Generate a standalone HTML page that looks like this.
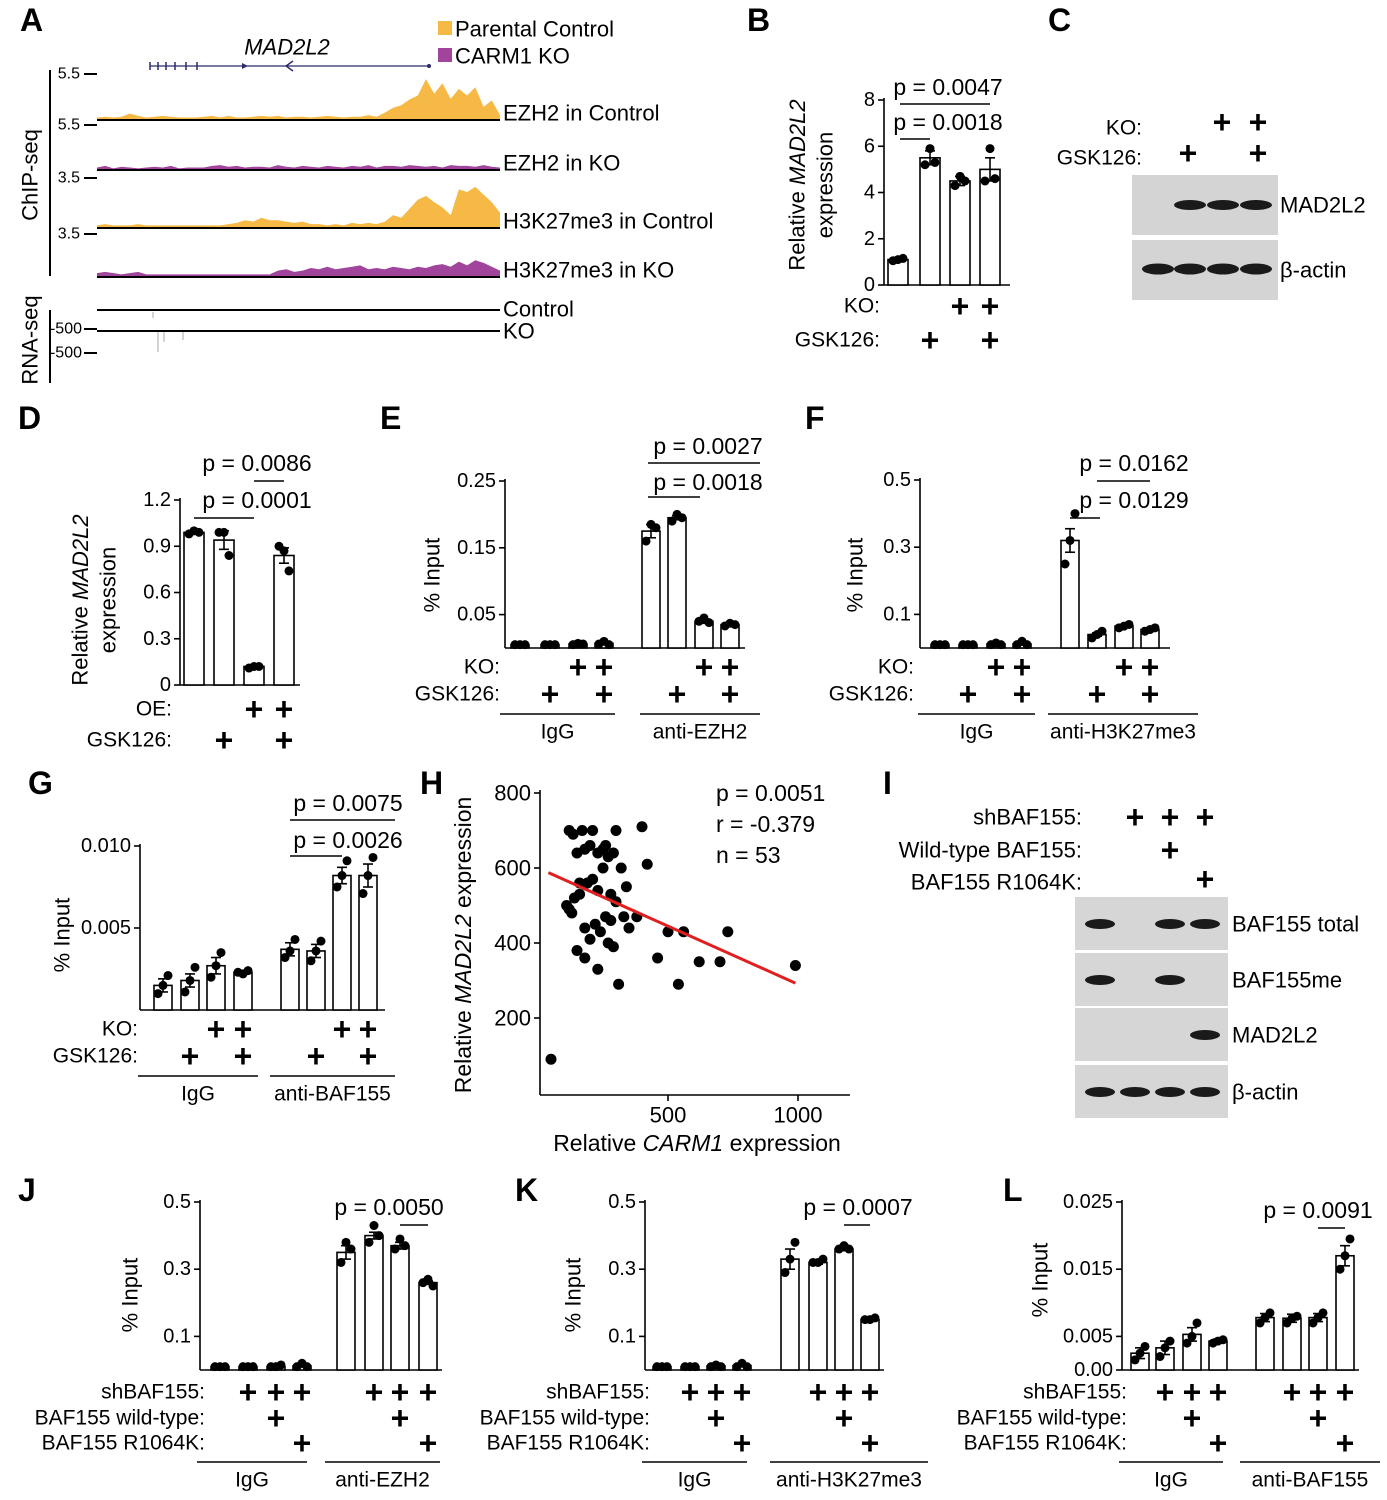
<!DOCTYPE html>
<html><head><meta charset="utf-8">
<style>
html,body{margin:0;padding:0;background:#fff;}
svg{display:block;font-family:"Liberation Sans",Arial,sans-serif;}
</style></head>
<body>
<svg id="fig" width="1387" height="1500" viewBox="0 0 1387 1500" xmlns="http://www.w3.org/2000/svg"></svg>
<script>
// ===== Data =====
// Panel A ChIP-seq track signal (arbitrary units)
const aEzh2Ctrl=[0.3,0.4,0.3,0.4,0.8,0.5,0.3,0.4,0.5,0.4,0.3,0.3,0.3,0.4,0.5,0.3,0.5,0.3,0.3,0.4,0.5,0.4,0.5,0.3,0.4,0.4,0.3,0.4,0.5,0.4,0.3,0.4,0.4,0.6,0.4,0.9,1.5,1.8,2.5,3.0,5.0,3.2,4.5,2.6,3.8,3.0,4.0,1.6,2.4,0.6];
const aEzh2Ko=[0.3,0.5,0.2,0.4,0.3,0.2,0.3,0.4,0.3,0.5,0.2,0.3,0.3,0.3,0.5,0.6,0.4,0.5,0.3,0.4,0.4,0.3,0.6,0.4,0.3,0.5,0.4,0.3,0.5,0.4,0.3,0.5,0.4,0.6,0.3,0.5,0.5,0.4,0.6,0.5,0.4,0.5,0.3,0.6,0.5,0.5,0.4,0.6,0.4,0.3];
const aH3Ctrl=[0.2,0.3,0.2,0.2,0.2,0.3,0.2,0.2,0.2,0.2,0.2,0.2,0.2,0.2,0.2,0.2,0.3,0.4,0.6,0.5,0.8,0.6,0.6,0.5,0.4,0.5,0.3,0.3,0.2,0.3,0.2,0.4,0.3,0.4,0.3,0.5,1.0,0.8,1.5,2.2,2.5,2.0,1.6,1.0,3.0,2.8,3.2,2.6,2.0,1.2];
const aH3Ko=[0.3,0.4,0.3,0.2,0.3,0.4,0.2,0.2,0.2,0.2,0.2,0.2,0.2,0.2,0.2,0.2,0.2,0.2,0.2,0.2,0.2,0.2,0.5,0.6,0.4,0.5,0.7,0.6,0.8,0.6,0.7,0.8,0.9,0.6,0.7,0.6,0.8,0.7,0.6,0.8,0.7,0.9,1.0,0.8,1.2,0.9,1.3,1.1,0.8,0.5];

// Panel B
const bVals=[1.1,5.5,4.5,5.0];
const bErr=[0.05,0.3,0.2,0.5];
const bDots=[[1.05,1.1,1.15],[5.2,5.9,5.3],[4.3,4.7,4.5],[4.5,5.9,4.6]];
const bTicks=[0,2,4,6,8];
// Panel D
const dVals=[0.99,0.94,0.12,0.84];
const dErr=[0.01,0.06,0.01,0.05];
const dDots=[[0.98,1.0,0.99],[0.99,0.99,0.84],[0.11,0.12,0.12],[0.90,0.87,0.74]];
const dTicks=[0,0.3,0.6,0.9,1.2];
const dTickLabels=["0","0.3","0.6","0.9","1.2"];
// Panel E
const eVals=[0.005,0.005,0.006,0.007,0.175,0.195,0.04,0.035];
const eErr=[0,0,0.001,0.002,0.01,0.003,0.003,0.002];
const eDots=[[0.005,0.005,0.005],[0.005,0.005,0.005],[0.005,0.007,0.006],[0.006,0.01,0.005],[0.16,0.185,0.18],[0.19,0.2,0.195],[0.04,0.045,0.038],[0.033,0.037,0.035]];
const eTicks=[0.05,0.15,0.25];
// Panel F
const fVals=[0.01,0.01,0.012,0.012,0.32,0.04,0.065,0.055];
const fErr=[0,0,0.002,0.003,0.035,0.005,0.004,0.003];
const fDots=[[0.01,0.01,0.01],[0.01,0.01,0.01],[0.01,0.015,0.01],[0.01,0.02,0.01],[0.25,0.32,0.4],[0.03,0.04,0.05],[0.06,0.065,0.07],[0.05,0.055,0.06]];
const fTicks=[0.1,0.3,0.5];
// Panel G
const gVals=[0.0015,0.0018,0.0027,0.0023,0.0037,0.0036,0.0082,0.0082];
const gErr=[0.0004,0.0004,0.0005,0.0001,0.0004,0.0004,0.0005,0.0007];
const gDots=[[0.001,0.0015,0.0021],[0.0011,0.0018,0.0026],[0.002,0.0027,0.0035],[0.0023,0.0022,0.0024],[0.0032,0.0036,0.0043],[0.003,0.0036,0.0042],[0.0075,0.0082,0.0091],[0.0071,0.0082,0.0093]];
const gTicks=[0.005,0.010];
const gTickLabels=["0.005","0.010"];
// Panel H
const hX=[120,135,150,170,180,200,210,230,250,260,270,290,300,320,340,120,140,160,190,210,230,250,280,300,330,110,130,160,180,200,220,240,260,270,290,310,350,380,420,460,500,540,560,620,700,730,990,50,150,180,230,280,400];
const hY=[700,690,640,700,650,660,700,640,650,660,630,640,700,600,550,490,520,560,560,570,540,600,530,510,470,500,480,530,440,410,450,430,470,400,390,290,440,470,610,360,430,290,430,350,350,430,340,90,380,360,330,460,710];
const hFit=[600,-0.31]; // intercept, slope
const hXTicks=[500,1000];
const hYTicks=[200,400,600,800];
// Panel J
const jVals=[0.01,0.01,0.01,0.012,0.35,0.40,0.37,0.26];
const jErr=[0,0,0,0.003,0.02,0.01,0.01,0.005];
const jDots=[[0.01,0.01,0.01],[0.01,0.01,0.01],[0.01,0.01,0.015],[0.01,0.02,0.01],[0.32,0.38,0.36],[0.38,0.43,0.40],[0.36,0.39,0.37],[0.26,0.27,0.25]];
const jTicks=[0.1,0.3,0.5];
// Panel K
const kVals=[0.01,0.01,0.012,0.013,0.33,0.32,0.36,0.15];
const kErr=[0,0,0.002,0.003,0.03,0.005,0.005,0.005];
const kDots=[[0.01,0.01,0.01],[0.01,0.01,0.01],[0.01,0.015,0.01],[0.01,0.02,0.01],[0.29,0.33,0.38],[0.32,0.32,0.33],[0.36,0.37,0.36],[0.15,0.15,0.155]];
const kTicks=[0.1,0.3,0.5];
// Panel L
const lVals=[0.0025,0.0033,0.0053,0.0043,0.0078,0.0077,0.0078,0.017];
const lErr=[0.0008,0.001,0.001,0.0003,0.0006,0.0006,0.0006,0.0015];
const lDots=[[0.0015,0.0025,0.0035],[0.002,0.0033,0.0043],[0.004,0.005,0.007],[0.004,0.0043,0.0045],[0.007,0.0078,0.0085],[0.007,0.0077,0.008],[0.007,0.0078,0.0085],[0.015,0.017,0.0195]];
const lTicks=[0,0.005,0.015,0.025];
const lTickLabels=["0.00","0.005","0.015","0.025"];

// ===== Helpers =====
const NS="http://www.w3.org/2000/svg";
const svg=document.getElementById('fig');
function mk(tag,attrs,name,parent){
  const el=document.createElementNS(NS,tag);
  for(const k in attrs) el.setAttribute(k,attrs[k]);
  
  
  (parent||svg).appendChild(el);
  return el;
}
function txt(x,y,s,name,o){
  o=o||{};
  const el=mk('text',{x:x,y:y,'font-size':o.size||22,'text-anchor':o.anchor||'start','dominant-baseline':'central',fill:o.fill||'#000','font-weight':o.weight||'normal','font-style':o.style||'normal'},name);
  if(o.rot) el.setAttribute('transform','rotate('+o.rot+' '+x+' '+y+')');
  el.textContent=s;
  return el;
}
function ln(x1,y1,x2,y2,name,w,c){
  return mk('line',{x1:x1,y1:y1,x2:x2,y2:y2,stroke:c||'#000','stroke-width':w||1.6},name);
}
function plus(x,y,name){ return txt(x,y,'+',name,{size:32,anchor:'middle',weight:'bold'}); }

// Generic bar panel
function barPanel(c){
  const sy=v=>c.y0-(v-c.vmin)/(c.vmax-c.vmin)*(c.y0-c.ytop);
  ln(c.ax,c.ytop-2,c.ax,c.y0,c.id+'-y-axis');
  ln(c.ax,c.y0,c.xEnd,c.y0,c.id+'-x-axis');
  c.ticks.forEach((t,i)=>{
    ln(c.ax-6,sy(t),c.ax,sy(t),c.id+'-y-tick');
    txt(c.ax-9,sy(t),c.tickLabels?c.tickLabels[i]:String(t),c.id+'-y-tick-label',{size:20,anchor:'end'});
  });
  c.vals.forEach((v,i)=>{
    const cx=c.xs[i],w=c.bw;
    mk('rect',{x:cx-w/2,y:sy(v),width:w,height:c.y0-sy(v),fill:'#fff',stroke:'#000','stroke-width':1.6},c.id+'-bar-'+(i+1));
    const e=c.err[i];
    if(e>0){
      ln(cx,sy(v+e),cx,sy(v-e),c.id+'-error-bar');
      ln(cx-5,sy(v+e),cx+5,sy(v+e),c.id+'-error-cap');
      ln(cx-5,sy(v-e),cx+5,sy(v-e),c.id+'-error-cap');
    }
    c.dots[i].forEach((d,j)=>{
      mk('circle',{cx:cx+(j-1)*5,cy:sy(d),r:4.5,fill:'#000'},c.id+'-replicate-dot');
    });
  });
  (c.sig||[]).forEach(s=>{
    txt(s.tx,s.ty,s.t,c.id+'-p-value',{size:23,anchor:'middle'});
    ln(s.x1,s.ly,s.x2,s.ly,c.id+'-significance-line');
  });
  (c.rows||[]).forEach(r=>{
    txt(r.lx,r.y,r.label,c.id+'-condition-label',{size:21,anchor:'end'});
    r.on.forEach(idx=>plus(c.xs[idx],r.y,c.id+'-plus'));
  });
  (c.groups||[]).forEach(g=>{
    ln(g.x1,g.ly,g.x2,g.ly,c.id+'-group-line');
    txt((g.x1+g.x2)/2,g.ly+18,g.label,c.id+'-group-label',{size:21,anchor:'middle'});
  });
  if(c.ylabel){
    const el=mk('text',{x:c.ylabel.x,y:c.ylabel.y,'font-size':22,'text-anchor':'middle','dominant-baseline':'central',transform:'rotate(-90 '+c.ylabel.x+' '+c.ylabel.y+')'},c.id+'-y-axis-title');
    el.innerHTML=c.ylabel.html;
  }
}

// ===== Panel letters =====
[['A',20,20],['B',747,20],['C',1048,20],['D',18,418],['E',380,418],['F',805,418],['G',28,783],['H',420,783],['I',883,783],['J',18,1190],['K',515,1190],['L',1003,1190]].forEach(p=>txt(p[1],p[2],p[0],'panel-label-'+p[0].toLowerCase(),{size:32,weight:'bold'}));

// ===== Panel A =====
// gene model
ln(150,66,430,66,'gene-model-line',1.2,'#2b2b6b');
[150,158,166,175,186,197].forEach(x=>ln(x,62,x,70,'gene-exon',1.5,'#2b2b6b'));
mk('polygon',{points:'242,63 248,66 242,69',fill:'#2b2b6b'},'gene-exon-marker');
mk('polyline',{points:'293,61 286,66 293,71',fill:'none',stroke:'#2b2b6b','stroke-width':1.4},'gene-direction-arrow');
mk('circle',{cx:429,cy:66,r:2,fill:'#2b2b6b'},'gene-end');
txt(287,47,'MAD2L2','gene-name',{size:22,anchor:'middle',style:'italic'});
mk('rect',{x:438,y:21,width:14,height:14,fill:'#f7b945'},'legend-swatch-control');
txt(455,29,'Parental Control','legend-entry-control',{size:22});
mk('rect',{x:438,y:48,width:14,height:14,fill:'#a0449c'},'legend-swatch-ko');
txt(455,56,'CARM1 KO','legend-entry-ko',{size:22});
ln(50,70,50,276,'chipseq-bracket',2);
txt(30,175,'ChIP-seq','chipseq-label',{size:22,anchor:'middle',rot:-90});
function track(data,base,maxv,color,label,name,tickY,tickLab){
  const step=403/(data.length-1);
  let pts='97,'+base+' ';
  data.forEach((v,i)=>{pts+=(97+i*step).toFixed(1)+','+(base-v/maxv*45).toFixed(1)+' ';});
  pts+='500,'+base;
  mk('polygon',{points:pts,fill:color},name+'-signal');
  ln(97,base,500,base,name+'-baseline',2);
  txt(503,base-7,label,name+'-label',{size:22});
  if(tickY){ln(84,tickY,97,tickY,name+'-scale-tick',2);txt(80,tickY,tickLab,name+'-scale-label',{size:16,anchor:'end'});}
}
track(aEzh2Ctrl,120,5.5,'#f7b945','EZH2 in Control','track-ezh2-control',74,'5.5');
track(aEzh2Ko,170,5.5,'#a0449c','EZH2 in KO','track-ezh2-ko',125,'5.5');
track(aH3Ctrl,228,3.5,'#f7b945','H3K27me3 in Control','track-h3k27me3-control',178,'3.5');
track(aH3Ko,277,3.5,'#a0449c','H3K27me3 in KO','track-h3k27me3-ko',234,'3.5');
ln(50,310,50,383,'rnaseq-bracket',2);
txt(30,340,'RNA-seq','rnaseq-label',{size:22,anchor:'middle',rot:-90});
ln(97,310,500,310,'rnaseq-control-line',2);
txt(503,309,'Control','rnaseq-control-label',{size:22});
ln(97,331,500,331,'rnaseq-ko-line',2);
txt(503,331,'KO','rnaseq-ko-label',{size:22});
ln(84,329,97,329,'rnaseq-tick',2);txt(82,329,'-500','rnaseq-tick-label',{size:16,anchor:'end'});
ln(84,353,97,353,'rnaseq-tick',2);txt(82,353,'-500','rnaseq-tick-label',{size:16,anchor:'end'});
[[153,312,318],[158,332,352],[164,332,342],[183,332,340]].forEach(r=>ln(r[0],r[1],r[0],r[2],'rnaseq-signal',1,'#aaa'));

// ===== Panel B =====
barPanel({id:'panel-b',ax:884,y0:285,ytop:100,vmin:0,vmax:8,xEnd:1010,ticks:bTicks,vals:bVals,err:bErr,dots:bDots,xs:[898,930,960,990],bw:20,
 sig:[{t:'p = 0.0047',tx:948,ty:87,x1:900,x2:990,ly:104},{t:'p = 0.0018',tx:948,ty:122,x1:900,x2:930,ly:139}],
 rows:[{label:'KO:',lx:880,y:306,on:[2,3]},{label:'GSK126:',lx:880,y:340,on:[1,3]}],
 ylabel:{x:797,y:185,html:'Relative <tspan font-style="italic">MAD2L2</tspan>'}});
txt(825,185,'expression','panel-b-y-axis-title-line2',{size:22,anchor:'middle',rot:-90});

// ===== Panel C =====
txt(1142,128,'KO:','panel-c-ko-label',{size:21,anchor:'end'});
txt(1142,158,'GSK126:','panel-c-gsk126-label',{size:21,anchor:'end'});
plus(1222,122,'panel-c-plus');plus(1258,122,'panel-c-plus');
plus(1188,153,'panel-c-plus');plus(1258,153,'panel-c-plus');
mk('rect',{x:1132,y:175,width:146,height:60,fill:'#d4d4d4'},'blot-mad2l2');
mk('rect',{x:1132,y:240,width:146,height:60,fill:'#d4d4d4'},'blot-actin');
[1190,1223,1256].forEach(x=>mk('ellipse',{cx:x,cy:205,rx:16,ry:5,fill:'#1a1a1a'},'band-mad2l2'));
[1158,1190,1223,1256].forEach(x=>mk('ellipse',{cx:x,cy:269,rx:16,ry:5.5,fill:'#1a1a1a'},'band-actin'));
txt(1280,205,'MAD2L2','blot-label-mad2l2',{size:22});
txt(1280,270,'β-actin','blot-label-actin',{size:22});

// ===== Panel D =====
barPanel({id:'panel-d',ax:180,y0:685,ytop:500,vmin:0,vmax:1.2,xEnd:300,ticks:dTicks,tickLabels:dTickLabels,vals:dVals,err:dErr,dots:dDots,xs:[194,224,254,284],bw:20,
 sig:[{t:'p = 0.0086',tx:257,ty:463,x1:254,x2:284,ly:481},{t:'p = 0.0001',tx:257,ty:500,x1:194,x2:254,ly:518}],
 rows:[{label:'OE:',lx:172,y:709,on:[2,3]},{label:'GSK126:',lx:172,y:740,on:[1,3]}],
 ylabel:{x:80,y:600,html:'Relative <tspan font-style="italic">MAD2L2</tspan>'}});
txt(108,600,'expression','panel-d-y-axis-title-line2',{size:22,anchor:'middle',rot:-90});

// ===== Panel E =====
barPanel({id:'panel-e',ax:505,y0:648,ytop:481,vmin:0,vmax:0.25,xEnd:745,ticks:eTicks,vals:eVals,err:eErr,dots:eDots,xs:[520,550,578,604,651,677,704,730],bw:18,
 sig:[{t:'p = 0.0027',tx:708,ty:446,x1:648,x2:760,ly:463},{t:'p = 0.0018',tx:708,ty:482,x1:648,x2:700,ly:497}],
 rows:[{label:'KO:',lx:500,y:667,on:[2,3,6,7]},{label:'GSK126:',lx:500,y:694,on:[1,3,5,7]}],
 groups:[{x1:500,x2:615,ly:714,label:'IgG'},{x1:640,x2:760,ly:714,label:'anti-EZH2'}],
 ylabel:{x:432,y:575,html:'% Input'}});

// ===== Panel F =====
barPanel({id:'panel-f',ax:920,y0:648,ytop:480,vmin:0,vmax:0.5,xEnd:1170,ticks:fTicks,vals:fVals,err:fErr,dots:fDots,xs:[940,968,996,1022,1070,1097,1124,1150],bw:18,
 sig:[{t:'p = 0.0162',tx:1134,ty:463,x1:1097,x2:1150,ly:481},{t:'p = 0.0129',tx:1134,ty:500,x1:1070,x2:1100,ly:518}],
 rows:[{label:'KO:',lx:914,y:667,on:[2,3,6,7]},{label:'GSK126:',lx:914,y:694,on:[1,3,5,7]}],
 groups:[{x1:918,x2:1035,ly:714,label:'IgG'},{x1:1048,x2:1198,ly:714,label:'anti-H3K27me3'}],
 ylabel:{x:855,y:575,html:'% Input'}});

// ===== Panel G =====
barPanel({id:'panel-g',ax:140,y0:1010,ytop:846,vmin:0,vmax:0.010,xEnd:385,ticks:gTicks,tickLabels:gTickLabels,vals:gVals,err:gErr,dots:gDots,xs:[163,190,216,243,290,316,342,368],bw:18,
 sig:[{t:'p = 0.0075',tx:348,ty:803,x1:290,x2:395,ly:820},{t:'p = 0.0026',tx:348,ty:840,x1:290,x2:342,ly:856}],
 rows:[{label:'KO:',lx:138,y:1029,on:[2,3,6,7]},{label:'GSK126:',lx:138,y:1056,on:[1,3,5,7]}],
 groups:[{x1:138,x2:258,ly:1076,label:'IgG'},{x1:270,x2:395,ly:1076,label:'anti-BAF155'}],
 ylabel:{x:62,y:935,html:'% Input'}});

// ===== Panel H =====
(function(){
  const ax=540,ay=1095;
  const sx=v=>538+v*0.26, sy=v=>1093-v*0.375;
  ln(ax,790,ax,ay,'panel-h-y-axis');
  ln(ax,ay,850,ay,'panel-h-x-axis');
  hYTicks.forEach(t=>{ln(ax-6,sy(t),ax,sy(t),'panel-h-y-tick');txt(ax-9,sy(t),String(t),'panel-h-y-tick-label',{size:22,anchor:'end'});});
  hXTicks.forEach(t=>{ln(sx(t),ay,sx(t),ay+6,'panel-h-x-tick');txt(sx(t),ay+20,String(t),'panel-h-x-tick-label',{size:22,anchor:'middle'});});
  hX.forEach((x,i)=>mk('circle',{cx:sx(x),cy:sy(hY[i]),r:5.5,fill:'#000'},'panel-h-point'));
  const x1=40,x2=990;
  ln(sx(x1),sy(hFit[0]+hFit[1]*x1),sx(x2),sy(hFit[0]+hFit[1]*x2),'panel-h-regression-line',3,'#e02020');
  const t1=mk('text',{x:697,y:1143,'font-size':23,'text-anchor':'middle','dominant-baseline':'central'},'panel-h-x-axis-title');
  t1.innerHTML='Relative <tspan font-style="italic">CARM1</tspan> expression';
  const t2=mk('text',{x:463,y:945,'font-size':23,'text-anchor':'middle','dominant-baseline':'central',transform:'rotate(-90 463 945)'},'panel-h-y-axis-title');
  t2.innerHTML='Relative <tspan font-style="italic">MAD2L2</tspan> expression';
  txt(716,793,'p = 0.0051','panel-h-p-value',{size:23});
  txt(716,824,'r = -0.379','panel-h-r-value',{size:23});
  txt(716,855,'n = 53','panel-h-n-value',{size:23});
})();

// ===== Panel I =====
txt(1082,817,'shBAF155:','panel-i-row-label',{size:22,anchor:'end'});
txt(1082,850,'Wild-type BAF155:','panel-i-row-label',{size:22,anchor:'end'});
txt(1082,882,'BAF155 R1064K:','panel-i-row-label',{size:22,anchor:'end'});
[[1135,817],[1170,817],[1205,817],[1170,850],[1205,879]].forEach(p=>plus(p[0],p[1],'panel-i-plus'));
[[897,'BAF155 total',[1,0,1,1]],[953,'BAF155me',[1,0,1,0]],[1008,'MAD2L2',[0,0,0,1]],[1065,'β-actin',[1,1,1,1]]].forEach((b,bi)=>{
  mk('rect',{x:1075,y:b[0],width:153,height:53,fill:'#d6d6d6'},'panel-i-blot');
  [1100,1135,1170,1205].forEach((x,li)=>{ if(b[2][li]) mk('ellipse',{cx:x,cy:b[0]+27,rx:15,ry:5,fill:'#1a1a1a'},'panel-i-band'); });
  txt(1232,b[0]+27,b[1],'panel-i-blot-label',{size:22});
});

// ===== Panels J K L =====
function jkl(id,off,vals,err,dots,ticks,tl,vmax,xs,ax,sig,groupLabel,groupX,ylab){
  barPanel({id:id,ax:ax,y0:1370,ytop:1202,vmin:0,vmax:vmax,xEnd:xs[7]+14,ticks:ticks,tickLabels:tl,vals:vals,err:err,dots:dots,xs:xs,bw:18,
   sig:[sig],
   rows:[{label:'shBAF155:',lx:ax+5,y:1392,on:[1,2,3,5,6,7]},{label:'BAF155 wild-type:',lx:ax+5,y:1418,on:[2,6]},{label:'BAF155 R1064K:',lx:ax+5,y:1443,on:[3,7]}],
   groups:[{x1:ax-3,x2:xs[3]+5,ly:1462,label:'IgG'},{x1:groupX[0],x2:groupX[1],ly:1462,label:groupLabel}],
   ylabel:ylab});
}
jkl('panel-j',0,jVals,jErr,jDots,jTicks,null,0.5,[220,248,276,302,346,374,400,428],200,
 {t:'p = 0.0050',tx:389,ty:1207,x1:400,x2:428,ly:1225},'anti-EZH2',[325,440],{x:130,y:1295,html:'% Input'});
jkl('panel-k',445,kVals,kErr,kDots,kTicks,null,0.5,[662,690,716,742,790,818,844,870],645,
 {t:'p = 0.0007',tx:858,ty:1207,x1:844,x2:870,ly:1225},'anti-H3K27me3',[770,928],{x:573,y:1295,html:'% Input'});
jkl('panel-l',900,lVals,lErr,lDots,lTicks,lTickLabels,0.025,[1140,1165,1192,1218,1265,1292,1318,1345],1122,
 {t:'p = 0.0091',tx:1318,ty:1210,x1:1318,x2:1345,ly:1228},'anti-BAF155',[1240,1380],{x:1040,y:1280,html:'% Input'});
</script>
</body></html>
